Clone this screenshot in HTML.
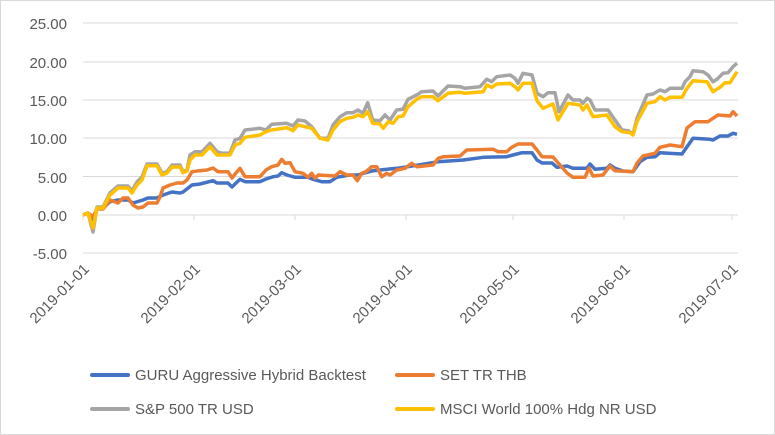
<!DOCTYPE html>
<html><head><meta charset="utf-8"><style>
html,body{margin:0;padding:0;background:#fff;}
svg{display:block;font-family:"Liberation Sans",sans-serif;}
</style></head><body>
<svg width="775" height="435" viewBox="0 0 775 435">
<rect x="0.5" y="0.5" width="774" height="434" fill="#fff" stroke="#d9d9d9"/>
<g stroke="#d9d9d9" stroke-width="1">
<line x1="83" y1="23" x2="738" y2="23"/>
<line x1="83" y1="62" x2="738" y2="62"/>
<line x1="83" y1="100" x2="738" y2="100"/>
<line x1="83" y1="138" x2="738" y2="138"/>
<line x1="83" y1="176.5" x2="738" y2="176.5"/>
<line x1="83" y1="215" x2="738" y2="215"/>
<line x1="83" y1="253" x2="738" y2="253"/>
<line x1="83" y1="215" x2="83" y2="220"/>
<line x1="194" y1="215" x2="194" y2="220"/>
<line x1="295" y1="215" x2="295" y2="220"/>
<line x1="406" y1="215" x2="406" y2="220"/>
<line x1="513" y1="215" x2="513" y2="220"/>
<line x1="624" y1="215" x2="624" y2="220"/>
<line x1="732" y1="215" x2="732" y2="220"/>
</g>
<g fill="#595959" font-size="15" text-anchor="end">
<text x="67" y="29">25.00</text>
<text x="67" y="68">20.00</text>
<text x="67" y="106">15.00</text>
<text x="67" y="144">10.00</text>
<text x="67" y="183">5.00</text>
<text x="67" y="221">0.00</text>
<text x="67" y="259">-5.00</text>
</g>
<g fill="#595959" font-size="15" text-anchor="end">
<text transform="translate(90,270) rotate(-45)">2019-01-01</text>
<text transform="translate(201,270) rotate(-45)">2019-02-01</text>
<text transform="translate(302,270) rotate(-45)">2019-03-01</text>
<text transform="translate(413,270) rotate(-45)">2019-04-01</text>
<text transform="translate(520,270) rotate(-45)">2019-05-01</text>
<text transform="translate(631,270) rotate(-45)">2019-06-01</text>
<text transform="translate(739,270) rotate(-45)">2019-07-01</text>
</g>
<g fill="none" stroke-width="3.5" stroke-linejoin="round">
<polyline stroke="#4472c4" points="83,215 88,213 93,224 97,208 103,208 110,201.7 118,200 128,200 133,203 143,200 148,198 157,198 163,195 172,192 180,193 183,192 192,185 200,184 213,180.7 217,183 228,183 232,187 237,182 240,179.3 245,181.7 260,181.7 266,179 273.3,176.7 278,176 281.7,172.7 287,175 295,177.3 308,177.3 313,179.3 321.7,181.7 330,181.7 336.7,177.3 350,175 358,175 363.3,173.3 371.7,171 380,170 396.7,168.3 408,166.7 438.3,161.7 463.3,160 483.3,157.3 506.7,156.7 513,155 522,152.7 532,152.7 537,160 542,163 552,163 557,167.3 567,166 573,168.3 587,168.3 590,164 595,169.3 607,168.3 610,165 615,168.3 623,171 633,171.7 640,161.7 647,157.3 655,156.7 660,152.7 682,154 693,138.3 710,139.3 713,140 720,136 728,136 733,133.3 737,134.3"/>
<polyline stroke="#ed7d31" points="83,215 88,213 93,217 97,209 103,209 110,200 118,203 123,198 128,198 133,205 138,208 143,207 148,203 157,203 160,197 163,188 170,185 177,183 183,183 187,180 192,171.7 200,170.7 207,170 213,168 218,171.7 228,171.7 232,178 237,171.7 240,168.3 245,176.7 260,176.7 266,170 271.7,166.7 278,165 281.7,159.3 285,163.3 290,162.7 295,171.7 303,173.3 308,177.3 311.7,173.3 315,178.3 318.3,175 335,176 340,171.7 346.7,175 353,175 357.3,180.7 361.7,173.3 366,171.7 371.7,166.7 376.7,166.7 381.7,176.7 386.7,173.3 390,175 396.7,170 405,168.3 411.7,163.3 416.7,166.7 433,165 438.3,158.3 443.3,156.7 460,156 466.7,150 493.3,149.3 498,151.7 506.7,151.7 511.7,147.3 518,144 532,144 537,150 542,156.7 553,157 560,165 567,173 573,177.3 585,177.3 589,168 593,176 603,175 610,166 615,170.7 633,171.7 637,163 643,156 655,153.3 660,147.3 670,145 682,146.7 687,128 695,121.7 708,121.7 713,118.3 718,115 730,116 733,111.7 737,116"/>
<polyline stroke="#a5a5a5" points="83,215 88,213 93,232 97,207 103,207 110,193 118,186 128,186 132,190.7 137,182 142,177 147,164 157,164 162,173.3 167,171.7 172,165 180,165 183,171.7 187,170 190,155 195,151.7 202,151.7 210,143.3 217,151.7 222,153.3 230,153 235,140 240,138.3 245,130 260,128.3 266,130 271.7,124.3 286.7,123.3 293,126 298,120 305,121 311.7,126.7 320,138.3 328,138.3 333,125 340,116.7 346.7,112.7 353,112.7 358,110 363,113.3 367.7,102.7 372.7,120 380,120.7 385,115 390,120 396.7,110 403,109.3 408,99.3 416.7,95 421.7,91.7 433,91 438,96 448,86 460,86.7 465,88.3 480,86.7 486.7,79.3 491.7,81.7 496.7,76.7 510,75 515,78.3 518,83.3 523,73.3 532,75 537,93.3 543,96.7 548,92.7 555,92.7 559,111.7 568,95 573,100 580,100 583,103.3 587,98.3 590,100 595,110 608,110 615,120 622,130 628,130.7 633,134 637,118.3 647,95 653,94 660,90 665,91.7 670,88.3 682,88.3 685,81.7 690,76.7 693,70.7 703,71.7 708,75 713,81.7 717,79.3 723,73.3 728,72.7 733,66.7 737,63.3"/>
<polyline stroke="#ffc000" points="83,215 88,213 93,228 97,208 103,208 110,195 118,188 128,188 132,193 137,185 142,180 147,165.7 157,165.7 162,175 167,173 172,167 180,167 183,172.7 187,171 190,160 195,155 202,155 210,146.7 217,155 222,155 230,155 235,145 240,143.3 245,137.3 260,135 266,131.7 271.7,130 286.7,127.7 293,130.7 298,125 305,126.7 311.7,128.3 320,138.3 328,140 333,130 340,121.7 346.7,118.3 353,117.3 358,115 363,116.7 367.7,111.7 372.7,123.3 380,124 383.3,128.3 388.3,121.7 393,123.3 398.3,116.7 403,116 408,106.7 416.7,99.3 421.7,96.7 433,96.7 438,100.7 448,93.3 460,92.3 465,93.3 483.3,91.7 486.7,85 491.7,87.3 496.7,84 510,83.3 515,86.7 518,90 523,83.3 532,83.3 537,100.7 543,108.3 553,104 558,120 568,103.3 573,104 580,105 583,110 587,105 593,116.7 607,115 615,126.7 622,131.7 630,132.7 633,135 637,121.7 647,103.3 655,101.7 660,96.7 665,100 670,97.3 682,97.3 687,88.3 693,80.7 707,81.7 713,91.7 720,87.3 725,82.7 730,82.7 737,71.7"/>
</g>
<g stroke-width="4" stroke-linecap="round">
<line x1="92" y1="375" x2="128" y2="375" stroke="#4472c4"/>
<line x1="397" y1="375" x2="433" y2="375" stroke="#ed7d31"/>
<line x1="92" y1="409" x2="128" y2="409" stroke="#a5a5a5"/>
<line x1="397" y1="409" x2="433" y2="409" stroke="#ffc000"/>
</g>
<g fill="#595959" font-size="15">
<text x="135" y="380">GURU Aggressive Hybrid Backtest</text>
<text x="440" y="380">SET TR THB</text>
<text x="135" y="414">S&amp;P 500 TR USD</text>
<text x="440" y="414">MSCI World 100% Hdg NR USD</text>
</g>
</svg>
</body></html>
